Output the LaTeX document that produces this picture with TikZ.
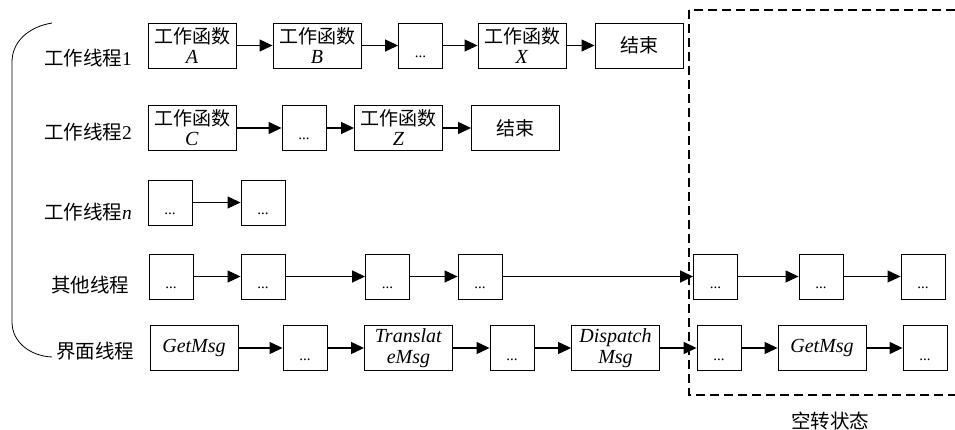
\documentclass[tikz,border=0pt]{standalone}
\usepackage{fontspec}
\setmainfont{Liberation Serif}
\newfontfamily\cjk{Noto Sans CJK SC}
\usetikzlibrary{arrows.meta}
\tikzset{
  bigbox/.style={draw, line width=0.9pt, minimum width=88pt, minimum height=45pt, inner sep=0pt, align=center,
    font=\fontsize{20}{21}\selectfont},
  smallbox/.style={draw, line width=0.9pt, minimum width=44pt, minimum height=45pt, inner sep=0pt,
    text height=0pt, text depth=0pt, font=\fontsize{15}{18}\selectfont},
  lbl/.style={font=\fontsize{19.5}{22}\selectfont, inner sep=0pt},
  arr/.style={line width=1.1pt, -{Triangle[length=13pt,width=12pt]}},
  ln/.style={line width=0.8pt},
  region/.style={line width=1.6pt, dash pattern=on 9pt off 5pt},
}
\newcommand{\dd}{\raisebox{-12pt}{...}}
\newcommand{\wf}[1]{{\cjk\fontsize{19}{21}\selectfont 工作函数}\\[-1pt]\textit{#1}}
\begin{document}
\begin{tikzpicture}[x=1pt,y=-1pt]
\useasboundingbox (0,0) rectangle (955,430);
% brace
\draw[ln] (52,23) .. controls (28,27) and (12,42) .. (12,62) -- (12,322) .. controls (12,342) and (30,356) .. (52,357);
% labels
\node[lbl] (l1) at (88,58) {{\cjk 工作线程}1};
\node[lbl] (l2) at (88,132) {{\cjk 工作线程}2};
\node[lbl] (l3) at (88,212) {{\cjk 工作线程}\textit{n}};
\node[lbl] (l4) at (90,285) {\cjk 其他线程};
\node[lbl] (l5) at (95,351) {\cjk 界面线程};
% row 1
\node[bigbox] (a) at (192,45.5) {\wf{A}};
\node[bigbox] (b) at (317,45.5) {\wf{B}};
\node[smallbox] (d1) at (420.5,45.5) {\dd};
\node[bigbox] (x) at (522,45.5) {\wf{X}};
\node[bigbox] (e1) at (639,45.5) {{\cjk\fontsize{19}{21}\selectfont 结束}};
\draw[arr] (a) -- (b);
\draw[arr] (b) -- (d1);
\draw[arr] (d1) -- (x);
\draw[arr] (x) -- (e1);
% row 2
\node[bigbox] (c) at (192,128) {\wf{C}};
\node[smallbox] (d2) at (304,128) {\dd};
\node[bigbox] (z) at (398.5,128) {\wf{Z}};
\node[bigbox] (e2) at (515.5,128) {{\cjk\fontsize{19}{21}\selectfont 结束}};
\draw[arr] (c) -- (d2);
\draw[arr] (d2) -- (z);
\draw[arr] (z) -- (e2);
% row n
\node[smallbox] (n1) at (170,202.5) {\dd};
\node[smallbox] (n2) at (263,202.5) {\dd};
\draw[arr] (n1) -- (n2);
% other threads
\node[smallbox] (o1) at (171,276.5) {\dd};
\node[smallbox] (o2) at (263,276.5) {\dd};
\node[smallbox] (o3) at (387.5,276.5) {\dd};
\node[smallbox] (o4) at (480,276.5) {\dd};
\node[smallbox] (o5) at (715.5,276.5) {\dd};
\node[smallbox] (o6) at (821,276.5) {\dd};
\node[smallbox] (o7) at (923,276.5) {\dd};
\draw[arr] (o1) -- (o2);
\draw[arr] (o2) -- (o3);
\draw[arr] (o3) -- (o4);
\draw[arr] (o4) -- (o5);
\draw[arr] (o5) -- (o6);
\draw[arr] (o6) -- (o7);
% UI thread
\node[bigbox] (u1) at (194,348) {\textit{GetMsg}};
\node[smallbox] (u2) at (305,348) {\dd};
\node[bigbox] (u3) at (408.5,348) {\textit{Translat}\\\textit{eMsg}};
\node[smallbox] (u4) at (512,348) {\dd};
\node[bigbox] (u5) at (615.5,348) {\textit{Dispatch}\\\textit{Msg}};
\node[smallbox] (u6) at (719,348) {\dd};
\node[bigbox] (u7) at (822,348) {\textit{GetMsg}};
\node[smallbox] (u8) at (925,348) {\dd};
\draw[arr] (u1) -- (u2);
\draw[arr] (u2) -- (u3);
\draw[arr] (u3) -- (u4);
\draw[arr] (u4) -- (u5);
\draw[arr] (u5) -- (u6);
\draw[arr] (u6) -- (u7);
\draw[arr] (u7) -- (u8);
% idle region
\coordinate (r1) at (689,10);
\coordinate (r2) at (962,395);
\draw[region] (r1) rectangle (r2);
\node[lbl] (idle) at (830,421) {\cjk 空转状态};
\end{tikzpicture}
\end{document}
